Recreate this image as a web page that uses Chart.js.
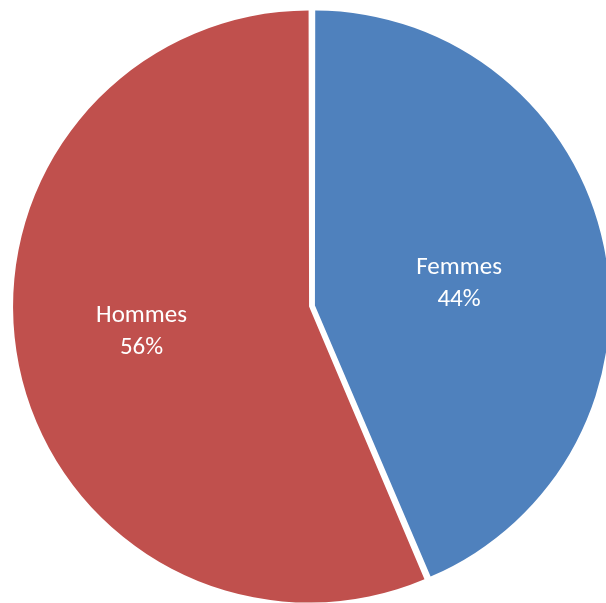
<!DOCTYPE html>
<html>
<head>
<meta charset="utf-8">
<script src="https://cdn.jsdelivr.net/npm/chart.js@4/dist/chart.umd.min.js"></script>
<style>
  html, body { margin: 0; padding: 0; background: #ffffff; }
  canvas { display: block; }
</style>
</head>
<body>
<canvas id="c" width="606" height="603"></canvas>
<script>
const categories = ["Femmes", "Hommes"];
const values = [43.6, 56.4];
const colors = ["#4F81BD", "#C0504D"];

const labelPlugin = {
  id: 'sliceLabels',
  afterDatasetsDraw(chart, args, opts) {
    const ctx = chart.ctx;
    const meta = chart.getDatasetMeta(0);
    const total = values.reduce((a, b) => a + b, 0);
    ctx.save();
    ctx.fillStyle = '#ffffff';
    ctx.font = opts.font;
    ctx.textAlign = 'center';
    ctx.textBaseline = 'middle';
    meta.data.forEach((arc, i) => {
      const p = arc.getProps(['x', 'y', 'startAngle', 'endAngle', 'outerRadius']);
      const mid = (p.startAngle + p.endAngle) / 2;
      const off = (arc.options.offset || 0) / 4;
      const cx = p.x + Math.cos(mid) * off;
      const cy = p.y + Math.sin(mid) * off;
      const r = p.outerRadius * opts.fractions[i];
      const lx = cx + Math.cos(mid) * r + opts.nudge[i][0];
      const ly = cy + Math.sin(mid) * r + opts.nudge[i][1];
      const pct = Math.round(values[i] / total * 100) + '%';
      ctx.fillText(categories[i], lx, ly - opts.lineGap / 2);
      ctx.fillText(pct, lx, ly + opts.lineGap / 2);
    });
    ctx.restore();
  }
};

new Chart(document.getElementById('c'), {
  type: 'pie',
  data: {
    labels: categories,
    datasets: [{
      data: values,
      backgroundColor: colors,
      borderWidth: 0,
      offset: 12
    }]
  },
  options: {
    responsive: false,
    animation: false,
    radius: 293,
    layout: { padding: { left: 18, right: 0, top: 9, bottom: 0 } },
    plugins: {
      legend: { display: false },
      tooltip: { enabled: false },
      sliceLabels: {
        font: '25px Carlito, Lato, sans-serif',
        lineGap: 32,
        fractions: [0.495, 0.58],
        nudge: [[2, 7], [-1, -9]]
      }
    }
  },
  plugins: [labelPlugin]
});
</script>
</body>
</html>
